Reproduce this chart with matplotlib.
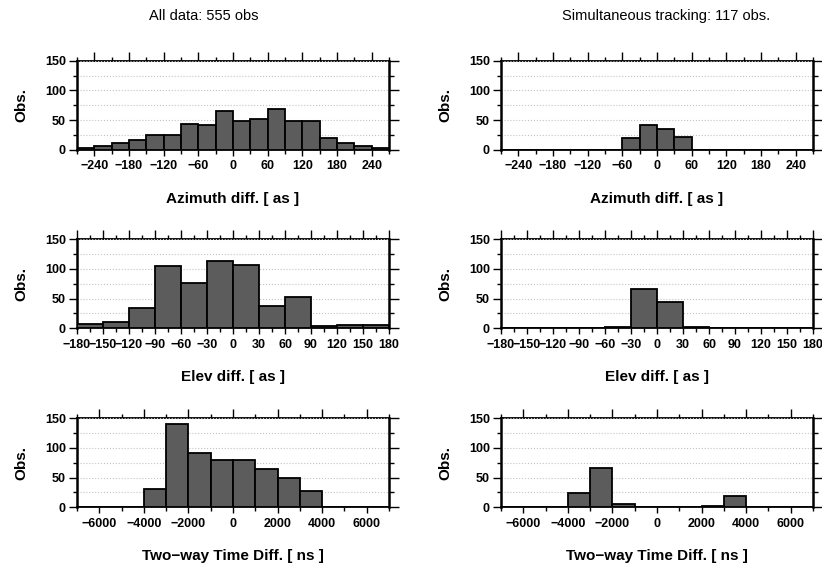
import numpy as np
import matplotlib
matplotlib.use("Agg")
import matplotlib.pyplot as plt
from matplotlib.ticker import MultipleLocator

plt.rcParams['font.family'] = ['Liberation Sans', 'DejaVu Sans']

# bin edges and counts
az_edges = np.arange(-270, 271, 30)
az_all = [3, 7, 12, 17, 24, 24, 44, 41, 65, 49, 51, 69, 49, 49, 20, 11, 6, 3]
az_sim = [0, 0, 0, 0, 0, 0, 0, 19, 41, 35, 22, 0, 0, 0, 0, 0, 0, 0]

el_edges = np.arange(-180, 181, 30)
el_all = [8, 10, 34, 105, 77, 114, 107, 38, 53, 4, 5, 5]
el_sim = [0, 0, 0, 0, 3, 67, 44, 3, 0, 0, 0, 0]

tw_edges = np.arange(-7000, 7001, 1000)
tw_all = [0, 0, 0, 31, 141, 92, 79, 79, 65, 49, 27, 0, 0, 0]
tw_sim = [0, 0, 0, 24, 67, 5, 0, 0, 0, 2, 19, 0, 0, 0]

titles = ['All data: 555 obs', 'Simultaneous tracking: 117 obs.']
xlabels = ['Azimuth diff. [ as ]', 'Elev diff. [ as ]', 'Two\u2212way Time Diff. [ ns ]']
# (labelled step, minor step)
tick_steps = [(60, 30), (30, 15), (2000, 1000)]

rows = [
    (az_edges, az_all, az_sim),
    (el_edges, el_all, el_sim),
    (tw_edges, tw_all, tw_sim),
]

W, H = 822, 567
fig = plt.figure(figsize=(W / 100, H / 100), dpi=100)

col_left = [77, 501]
row_top = [60.7, 239.3, 418.3]
ax_w, ax_h = 312, 89


def draw_panel(ax, edges, counts, major, minor, xlabel):
    ax.bar(edges[:-1], counts, width=np.diff(edges), align='edge',
           color='#5c5c5c', edgecolor='black', linewidth=1.3, zorder=3)
    ax.set_xlim(edges[0], edges[-1])
    ax.set_ylim(0, 150)

    ax.xaxis.set_major_locator(MultipleLocator(major))
    ax.xaxis.set_minor_locator(MultipleLocator(minor))
    ax.yaxis.set_major_locator(MultipleLocator(50))
    ax.yaxis.set_minor_locator(MultipleLocator(25))

    ax.grid(True, axis='y', which='both', linestyle=':', color='#c4c4c4',
            linewidth=0.8, zorder=0)

    ax.tick_params(axis='x', which='major', direction='out', length=4,
                   width=1, pad=3.5, labelsize=9)
    ax.tick_params(axis='x', which='minor', direction='out', length=3, width=1)
    ax.tick_params(axis='y', which='major', direction='out', length=6,
                   width=1, pad=2, labelsize=9)
    ax.tick_params(axis='y', which='minor', direction='out', length=3, width=1)
    for lab in ax.get_xticklabels() + ax.get_yticklabels():
        lab.set_fontweight('bold')

    ax.spines['left'].set_linewidth(1.8)
    ax.spines['bottom'].set_linewidth(1.3)
    ax.spines['top'].set_visible(False)
    ax.spines['right'].set_visible(False)

    top = ax.secondary_xaxis('top')
    top.xaxis.set_major_locator(MultipleLocator(major))
    top.xaxis.set_minor_locator(MultipleLocator(minor))
    top.tick_params(which='major', direction='out', length=6.5, width=1,
                    labeltop=False)
    top.tick_params(which='minor', direction='out', length=3, width=1)
    top.spines['top'].set_linewidth(1.3)

    right = ax.secondary_yaxis('right')
    right.yaxis.set_major_locator(MultipleLocator(50))
    right.yaxis.set_minor_locator(MultipleLocator(25))
    right.tick_params(which='major', direction='out', length=7, width=1,
                      labelright=False)
    right.tick_params(which='minor', direction='out', length=3.5, width=1)
    right.spines['right'].set_linewidth(1.8)

    ax.set_xlabel(xlabel, fontsize=11, fontweight='bold', labelpad=14)
    ax.set_ylabel('Obs.', fontsize=11, fontweight='bold', labelpad=12)


for r, (edges, c_all, c_sim) in enumerate(rows):
    major, minor = tick_steps[r]
    for c, counts in enumerate([c_all, c_sim]):
        rect = [col_left[c] / W, (H - row_top[r] - ax_h) / H, ax_w / W, ax_h / H]
        ax = fig.add_axes(rect)
        draw_panel(ax, edges, counts, major, minor, xlabels[r])

fig.text(149 / W, 1 - 16 / H, titles[0], fontsize=10.5, ha='left', va='center')
fig.text(562 / W, 1 - 16 / H, titles[1], fontsize=10.5, ha='left', va='center')

fig.savefig('out.png', dpi=100)
